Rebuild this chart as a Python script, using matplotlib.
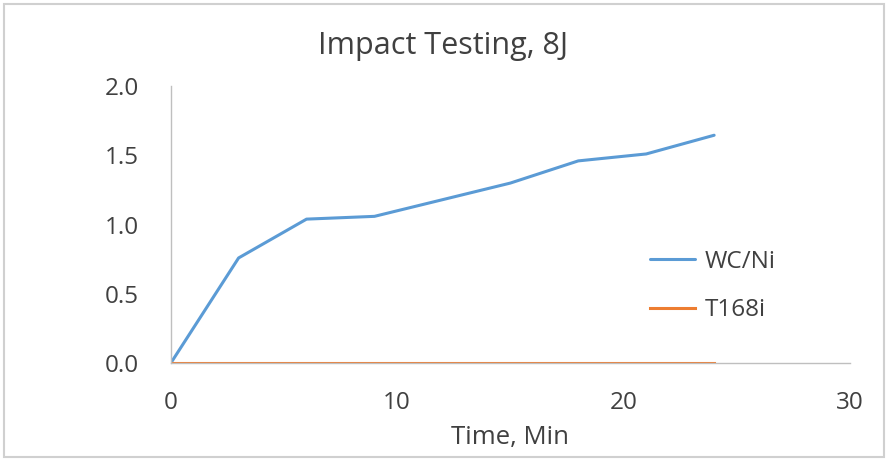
import numpy as np
import matplotlib.pyplot as plt

plt.rcParams['font.family'] = ['Open Sans', 'DejaVu Sans']

# data
time_min = [0, 3, 6, 9, 12, 15, 18, 21, 24]
wc_ni = [0.0, 0.76, 1.04, 1.06, 1.18, 1.30, 1.46, 1.51, 1.645]
t168i = [0, 0, 0, 0, 0, 0, 0, 0, 0]

x_ticks = [0, 10, 20, 30]
y_ticks = [0.0, 0.5, 1.0, 1.5, 2.0]

txt = '#404040'

fig = plt.figure(figsize=(8.88, 4.61), dpi=100)
ax = fig.add_axes([0.1922, 0.2119, 0.765, 0.6015])

ax.plot(time_min, wc_ni, color='#5b9bd5', lw=2.2, label='WC/Ni', solid_capstyle='round')
ax.plot(time_min, t168i, color='#ed7d31', lw=2.2, label='T168i')

ax.set_xlim(0, 30)
ax.set_ylim(0, 2.0)
ax.set_xticks(x_ticks)
ax.set_yticks(y_ticks)
ax.set_yticklabels(['%.1f' % v for v in y_ticks])
ax.tick_params(length=0, labelsize=17.5, colors=txt)
ax.tick_params(axis='x', pad=20)
ax.tick_params(axis='y', pad=23)

for side in ['top', 'right']:
    ax.spines[side].set_visible(False)
ax.spines['left'].set_color('#bfbfbf')
ax.spines['bottom'].set_color('#bfbfbf')
ax.spines['left'].set_linewidth(1)
ax.spines['bottom'].set_linewidth(1)

ax.set_xlabel('Time, Min', fontsize=18.5, color=txt, labelpad=7)
fig.text(0.499, 0.883, 'Impact Testing, 8J', fontsize=22, color=txt,
         ha='center', va='baseline')

leg = ax.legend(loc='upper left', bbox_to_anchor=(0.732, 0.4577),
                bbox_transform=fig.transFigure, frameon=False, borderpad=0,
                borderaxespad=0, fontsize=17.5, handlelength=1.85,
                handletextpad=0.4, labelspacing=1.0)
for t in leg.get_texts():
    t.set_color(txt)

# outer chart border
fig.patches.append(plt.Rectangle((0.004, 0.008), 0.992, 0.984, transform=fig.transFigure,
                                 fill=False, edgecolor='#d0d0d0', lw=1.5))

fig.savefig('out.png', dpi=100)
